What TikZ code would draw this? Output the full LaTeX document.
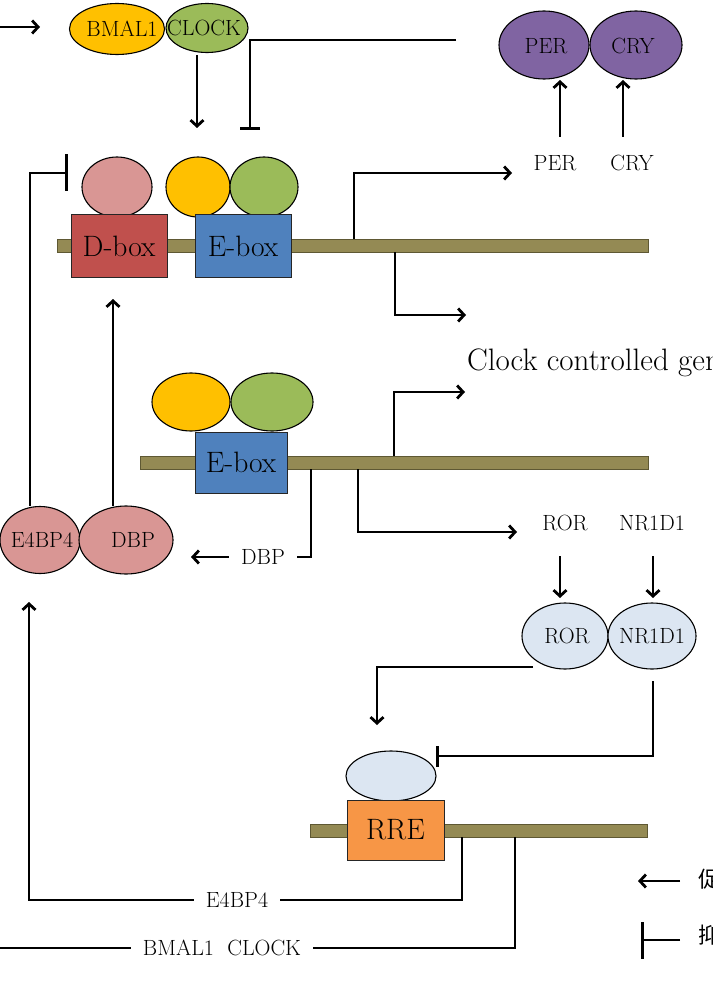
\documentclass[tikz,border=0pt]{standalone}
\usepackage{fontspec}
\newfontfamily\cjk{Noto Sans CJK SC}
\usetikzlibrary{shapes.geometric,arrows.meta}
\definecolor{orng}{HTML}{FFC000}
\definecolor{grn}{HTML}{9BBB59}
\definecolor{purp}{HTML}{8064A2}
\definecolor{pink}{HTML}{D99694}
\definecolor{lblue}{HTML}{DCE6F2}
\definecolor{dboxc}{HTML}{C0504D}
\definecolor{eboxc}{HTML}{4F81BD}
\definecolor{rrec}{HTML}{F79646}
\definecolor{dnac}{HTML}{948A54}
\definecolor{dnad}{HTML}{5E5833}
\begin{document}
\begin{tikzpicture}[x=1pt,y=-1pt,
  every node/.style={font=\fontsize{22}{26}\selectfont,inner sep=0pt},
  prot/.style={ellipse,draw=black,line width=1.1pt},
  boxn/.style={draw=black!85,line width=1pt,font=\fontsize{29.5}{32}\selectfont},
  dna/.style={fill=dnac,draw=dnad,line width=1pt},
  conn/.style={line width=2.8pt},
  act/.style={conn,-{Straight Barb[length=6pt,width=13pt]}},
  inh/.style={conn,-{Bar[width=#1]}},
  inh/.default=20pt,
  lab/.style={inner xsep=12pt,inner ysep=2pt}
]
\useasboundingbox (0,0) rectangle (712,992);
\fill[white] (0,0) rectangle (712,992);

% ---------- top complex ----------
\node[prot,fill=orng,minimum width=95,minimum height=51] (bmal) at (117,29) {};
\node[prot,fill=grn,minimum width=82,minimum height=49] (clock) at (207,28) {};
\node (bmalt) at (122,29) {BMAL1};
\node (clockt) at (204,28) {CLOCK};
\coordinate (tl0) at (0,27); \coordinate (tl1) at (40,27);
\draw[act] (tl0) -- (tl1);
\coordinate (cd0) at (197,55); \coordinate (cd1) at (197,128);
\draw[act] (cd0) -- (cd1);
\coordinate (pc0) at (456,40); \coordinate (pc1) at (250,130);
\draw[inh=20pt] (pc0) -| (pc1);

% ---------- PER / CRY ----------
\node[prot,fill=purp,minimum width=90,minimum height=68] (perp) at (544,45) {};
\node[prot,fill=purp,minimum width=92,minimum height=68] (cryp) at (636,45) {};
\node at (546,46) {PER};
\node at (633,46) {CRY};
\node (perm) at (555,163) {PER};
\node (crym) at (632,163) {CRY};
\coordinate (pa0) at (560,137); \coordinate (pa1) at (560,80);
\coordinate (ca0) at (623,137); \coordinate (ca1) at (623,80);
\draw[act] (pa0) -- (pa1);
\draw[act] (ca0) -- (ca1);

% ---------- top DNA ----------
\draw[dna] (57,239) rectangle (648,252);
\node[prot,fill=pink,minimum width=70,minimum height=60] (dbp1) at (117,187) {};
\node[prot,fill=orng,minimum width=64,minimum height=60] (bm1) at (198,187) {};
\node[prot,fill=grn,minimum width=68,minimum height=60] (cl1) at (264,187) {};
\node[boxn,fill=dboxc,minimum width=96,minimum height=62] (dbox) at (119,246) {D-box};
\node[boxn,fill=eboxc,minimum width=96,minimum height=62] (ebox1) at (243,246) {E-box};
\coordinate (p1a) at (354,239); \coordinate (p1b) at (512,173);
\draw[act] (p1a) |- (p1b);
\coordinate (p2a) at (395,252); \coordinate (p2b) at (466,315);
\draw[act] (p2a) |- (p2b);
\node[anchor=base west,font=\fontsize{31}{34}\selectfont] (ccg) at (467,370) {Clock controlled genes};

% ---------- left feedback ----------
\coordinate (lt0) at (30,506); \coordinate (lt1) at (68,173);
\draw[inh=37pt] (lt0) |- (lt1);
\coordinate (da0) at (113,506); \coordinate (da1) at (113,299);
\draw[act] (da0) -- (da1);

% ---------- middle DNA ----------
\draw[dna] (140,456) rectangle (648,469);
\node[prot,fill=orng,minimum width=78,minimum height=58] (bm2) at (191,402) {};
\node[prot,fill=grn,minimum width=82,minimum height=58] (cl2) at (272,402) {};
\node[boxn,fill=eboxc,minimum width=92,minimum height=61] (ebox2) at (241,462.5) {E-box};
\coordinate (m1a) at (394,456); \coordinate (m1b) at (465,392);
\draw[act] (m1a) |- (m1b);
\coordinate (m2a) at (358,469); \coordinate (m2b) at (517,532);
\draw[act] (m2a) |- (m2b);
\node[lab] (dbpl) at (263,557) {DBP};
\coordinate (m3a) at (311,469);
\draw[conn] (m3a) |- (dbpl.east);
\coordinate (dbpa) at (191,557);
\draw[act] (dbpl.west) -- (dbpa);

% ---------- E4BP4 / DBP ----------
\node[prot,fill=pink,minimum width=80,minimum height=67] (e4) at (40,540) {};
\node[prot,fill=pink,minimum width=94,minimum height=68] (dbp) at (126,540) {};
\node at (42,540) {E4BP4};
\node at (133,540) {DBP};

% ---------- ROR / NR1D1 ----------
\node (rorm) at (565,523) {ROR};
\node (nrm) at (652,523) {NR1D1};
\coordinate (ra0) at (560,556); \coordinate (ra1) at (560,598);
\coordinate (na0) at (653,556); \coordinate (na1) at (653,598);
\draw[act] (ra0) -- (ra1);
\draw[act] (na0) -- (na1);
\node[prot,fill=lblue,minimum width=86,minimum height=66] (ror) at (565,636) {};
\node[prot,fill=lblue,minimum width=88,minimum height=66] (nr) at (652,636) {};
\node at (567,636) {ROR};
\node at (652,636) {NR1D1};
\coordinate (r1a) at (533,667); \coordinate (r1b) at (377,725);
\draw[act] (r1a) -| (r1b);
\coordinate (n1a) at (653,681); \coordinate (n1b) at (436,756);
\draw[inh=21pt] (n1a) |- (n1b);

% ---------- RRE ----------
\draw[dna] (310,824) rectangle (647,837);
\node[prot,fill=lblue,minimum width=90,minimum height=50] (rrep) at (391,776) {};
\node[boxn,fill=rrec,minimum width=97,minimum height=60] (rre) at (395.5,830) {RRE};

% ---------- bottom feedback ----------
\node[lab] (e4l) at (237,900) {E4BP4};
\coordinate (b1a) at (462,837); \coordinate (b1b) at (29,602);
\draw[conn] (b1a) |- (e4l.east);
\draw[act] (e4l.west) -| (b1b);
\node[lab] (bcl) at (222,948) {BMAL1\ \ CLOCK};
\coordinate (b2a) at (515,837); \coordinate (b2b) at (0,948);
\draw[conn] (b2a) |- (bcl.east);
\draw[conn] (bcl.west) -- (b2b);

% ---------- legend ----------
\coordinate (lg1a) at (680,881); \coordinate (lg1b) at (638,881);
\draw[act] (lg1a) -- (lg1b);
\node[anchor=west,font=\cjk\fontsize{22}{26}\selectfont] (lgt1) at (698,879) {促进};
\coordinate (lg2a) at (680,940); \coordinate (lg2b) at (641,940);
\draw[inh=37pt] (lg2a) -- (lg2b);
\node[anchor=west,font=\cjk\fontsize{22}{26}\selectfont] (lgt2) at (698,935) {抑制};
\end{tikzpicture}
\end{document}
